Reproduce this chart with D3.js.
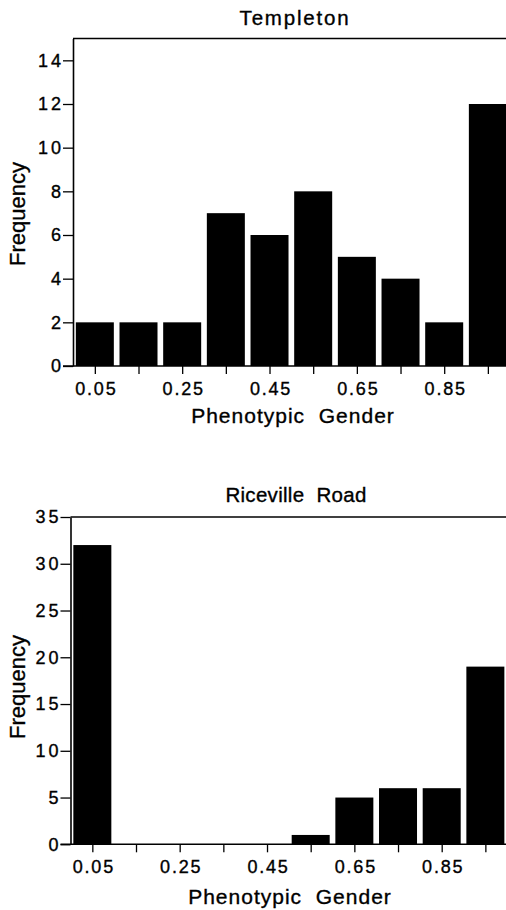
<!DOCTYPE html>
<html>
<head>
<meta charset="utf-8">
<script src="https://cdn.jsdelivr.net/npm/d3@7"></script>
<style>
  html, body { margin: 0; padding: 0; background: #fff; }
  svg { display: block; }
  text { font-family: "Liberation Sans", Arial, Helvetica, sans-serif; fill: #000; stroke: #000; stroke-width: 0.35px; }
</style>
</head>
<body>
<svg id="chart" width="506" height="910"></svg>
<script>
// ---- data ----
const binCenters = [0.05, 0.15, 0.25, 0.35, 0.45, 0.55, 0.65, 0.75, 0.85, 0.95];
const xTickLabels = ["0.05", "0.25", "0.45", "0.65", "0.85"];
const templetonFreq = [2, 2, 2, 7, 6, 8, 5, 4, 2, 12];
const ricevilleFreq = [32, 0, 0, 0, 0, 1, 5, 6, 6, 19];
const templetonYTicks = [0, 2, 4, 6, 8, 10, 12, 14];
const ricevilleYTicks = [0, 5, 10, 15, 20, 25, 30, 35];
const panelTitles = ["Templeton", "Riceville  Road"];
const xTitle = "Phenotypic  Gender";
const yTitle = "Frequency";

const svg = d3.select("#chart");

function panel(opt) {
  const g = svg.append("g");
  const x = d3.scaleLinear().domain([0, 1]).range([opt.left, opt.right]);
  const y = d3.scaleLinear().domain([0, opt.yMax]).range([opt.bottom, opt.top]);
  const bw = 38;

  // bars
  g.selectAll("rect.bar").data(opt.values).enter().append("rect")
    .attr("class", "bar")
    .attr("x", (d, i) => x(binCenters[i]) - bw / 2)
    .attr("width", bw)
    .attr("y", d => y(d))
    .attr("height", d => y(0) - y(d))
    .attr("fill", "#000");

  // top frame line
  g.append("line")
    .attr("x1", opt.left).attr("x2", 506)
    .attr("y1", y(opt.yMax)).attr("y2", y(opt.yMax))
    .attr("stroke", "#000").attr("stroke-width", 1.6);

  // y axis
  const ya = g.append("g")
    .attr("transform", `translate(${opt.left},0)`)
    .call(d3.axisLeft(y).tickValues(opt.yTicks).tickSize(10).tickSizeOuter(0).tickPadding(2));
  ya.select(".domain").attr("stroke-width", 1.6);
  ya.selectAll(".tick line").attr("stroke-width", 1.3);
  ya.selectAll(".tick text")
    .attr("font-size", 18)
    .attr("letter-spacing", 3)
    .attr("dx", 3)
    .attr("fill", "#000");

  // x axis
  const xa = g.append("g")
    .attr("transform", `translate(0,${opt.bottom})`)
    .call(d3.axisBottom(x).tickValues(binCenters).tickSize(8).tickSizeOuter(0)
      .tickFormat(d => { const s = d3.format(".2f")(d); return xTickLabels.includes(s) ? s : ""; })
      .tickPadding(8));
  xa.select(".domain").remove();
  xa.selectAll(".tick line").attr("stroke-width", 1.3);
  xa.selectAll(".tick text")
    .attr("font-size", 18)
    .attr("letter-spacing", 1.8)
    .attr("dx", 1)
    .attr("fill", "#000");
  g.append("line")
    .attr("x1", opt.left - 10).attr("x2", 506)
    .attr("y1", opt.bottom).attr("y2", opt.bottom)
    .attr("stroke", "#000").attr("stroke-width", 1.6);

  // titles
  g.append("text")
    .attr("x", opt.titleX).attr("y", opt.titleY)
    .attr("text-anchor", "middle")
    .attr("font-size", 20.5)
    .attr("letter-spacing", opt.titleSpacing)
    .style("white-space", "pre")
    .text(opt.title);

  g.append("text")
    .attr("x", opt.xTitleX).attr("y", opt.xTitleY)
    .attr("text-anchor", "middle")
    .attr("font-size", 21)
    .attr("letter-spacing", 1)
    .style("white-space", "pre")
    .text(xTitle);

  g.append("text")
    .attr("transform", `translate(${opt.yTitleX},${opt.yTitleY}) rotate(-90)`)
    .attr("text-anchor", "middle")
    .attr("font-size", 22)
    .text(yTitle);
}

panel({
  left: 73, right: 509.7, top: 38.5, bottom: 366, yMax: 15,
  values: templetonFreq, yTicks: templetonYTicks,
  title: panelTitles[0], titleX: 295, titleY: 25, titleSpacing: 1.8,
  xTitleX: 293, xTitleY: 423,
  yTitleX: 25, yTitleY: 214
});

panel({
  left: 70.5, right: 507.2, top: 517, bottom: 844.3, yMax: 35,
  values: ricevilleFreq, yTicks: ricevilleYTicks,
  title: panelTitles[1], titleX: 296, titleY: 502, titleSpacing: 0.3,
  xTitleX: 290, xTitleY: 904,
  yTitleX: 25, yTitleY: 687
});
</script>
</body>
</html>
